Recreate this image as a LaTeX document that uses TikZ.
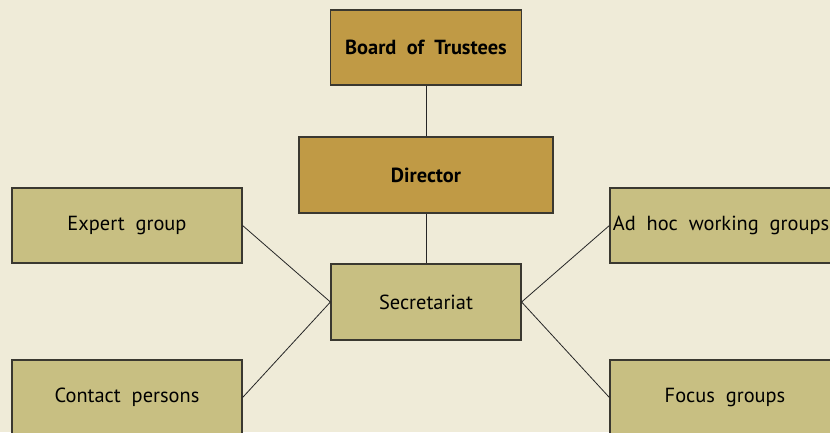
\documentclass[tikz,border=0pt]{standalone}
\usepackage{fontspec}
\setmainfont{PT Sans}[WordSpace=2]
\usepackage{xcolor}
\definecolor{paper}{HTML}{EFEBD8}
\definecolor{gold}{HTML}{C09A45}
\definecolor{olive}{HTML}{C8BF82}
\definecolor{edge}{HTML}{3A3830}
\tikzset{
	unit/.style={
			draw=edge, line width=1.2pt, inner sep=0pt,
			minimum width=230pt, minimum height=75pt,
			font=\fontsize{20.4}{24}\selectfont
		},
	head/.style={unit, fill=gold, font=\fontsize{20.4}{24}\selectfont\bfseries},
	group/.style={unit, fill=olive},
	link/.style={draw=black!85, line width=0.8pt}
}

\begin{document}
\begin{tikzpicture}[x=1pt, y=-1pt]
        % Page and background
        \useasboundingbox (0,0) rectangle (830,432);
        \fill[paper] (0,0) rectangle (830,432);

        % Management
        \node[head, minimum width=191pt] (board) at (426, 47.5) {Board of Trustees};
        \node[head, minimum width=254pt, minimum height=76pt] (director) at (426, 175) {Director};
        \node[group, minimum width=190pt, minimum height=76pt] (secretariat) at (426, 302) {Secretariat};

        % Groups around the secretariat
        \node[group] (expert) at (127, 225.5) {Expert group};
        \node[group] (contact) at (127, 397.5) {Contact persons};
        \node[group, minimum width=222pt] (adhoc) at (721, 225.5) {Ad hoc working groups};
        \node[group] (focus) at (725, 397.5) {Focus groups};

        % Links
        \draw[link] (board) -- (director);
        \draw[link] (director) -- (secretariat);
        \draw[link] (expert.east) -- (secretariat.west);
        \draw[link] (contact.east) -- (secretariat.west);
        \draw[link] (secretariat.east) -- (adhoc.west);
        \draw[link] (secretariat.east) -- (focus.west);
    \end{tikzpicture}
\end{document}
